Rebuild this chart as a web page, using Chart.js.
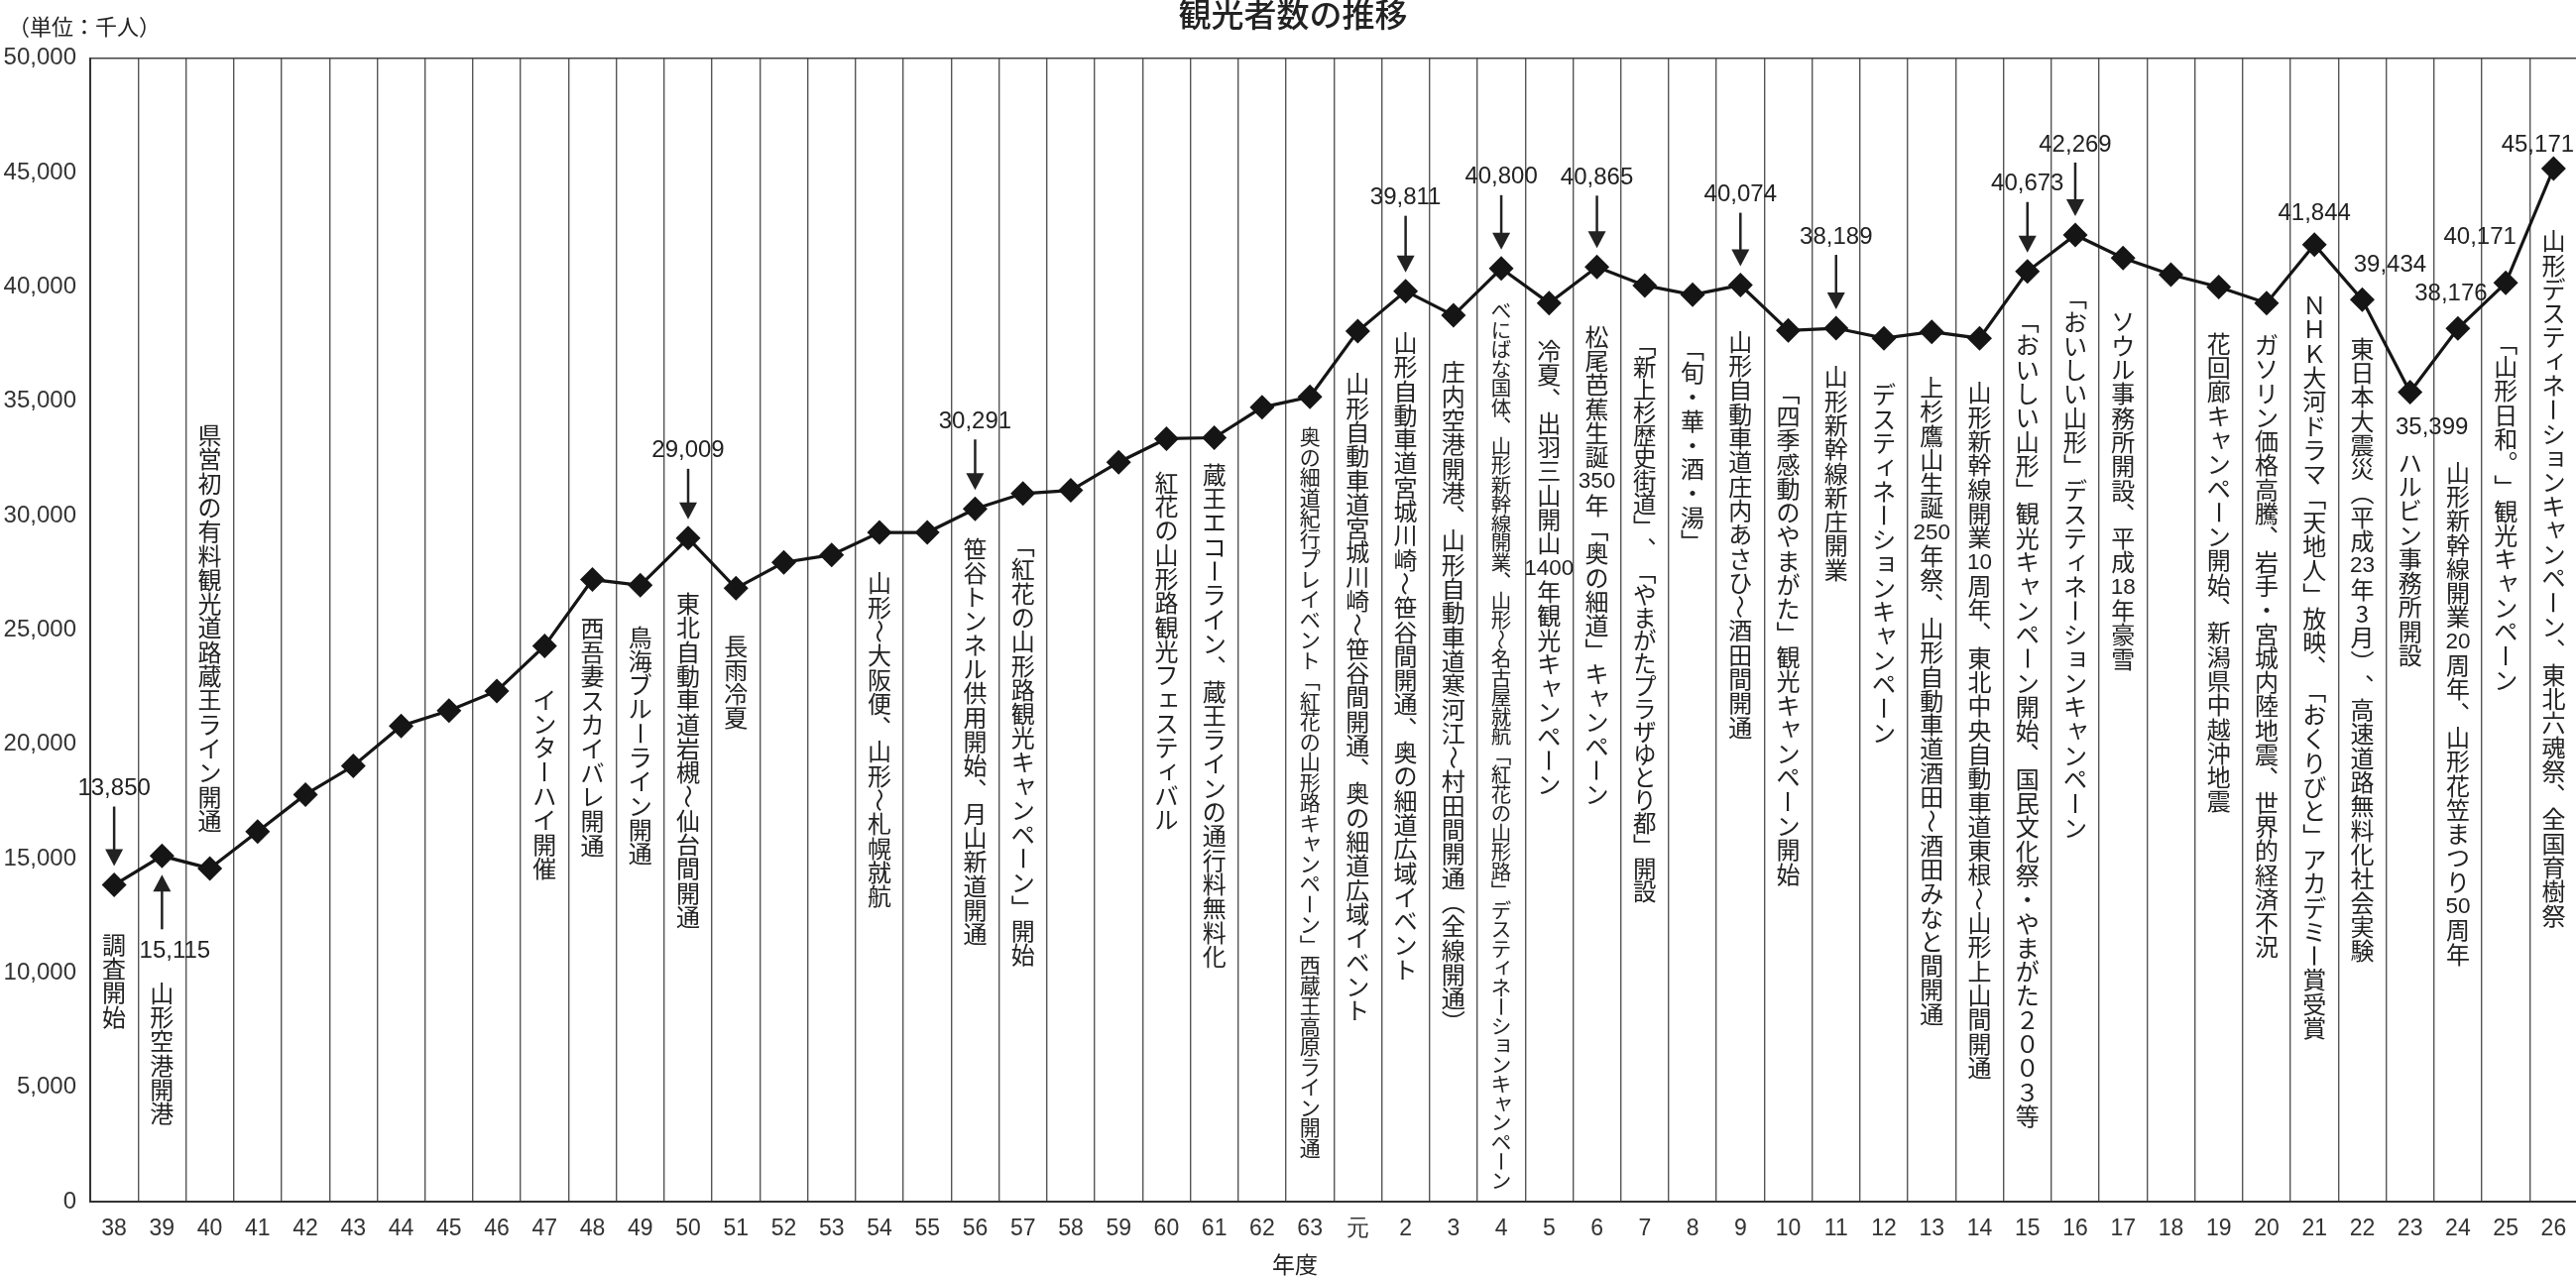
<!DOCTYPE html>
<html>
<head>
<meta charset="utf-8">
<script src="https://cdn.jsdelivr.net/npm/chart.js@4.4.1/dist/chart.umd.min.js"></script>
<style>
html,body{margin:0;padding:0;background:#fff;overflow:hidden;}
#wrap{position:relative;width:2612px;height:1287px;}
</style>
</head>
<body>
<div id="wrap"><canvas id="c"></canvas></div>
<script>
// ---------- DATA ----------
const years = ['38','39','40','41','42','43','44','45','46','47','48','49','50','51','52','53','54','55','56','57','58','59','60','61','62','63',
  '元','2','3','4','5','6','7','8','9','10','11','12','13','14','15','16','17','18','19','20','21','22','23','24','25','26'];
const visitors = [13850,15115,14570,16180,17800,19050,20800,21470,22330,24300,27200,26950,29009,26820,27950,28280,29260,29260,30291,30960,31100,32330,33360,33400,34730,35190,
  38060,39811,38750,40800,39290,40865,40060,39650,40074,38090,38189,37750,38030,37750,40673,42269,41260,40530,39990,39290,41844,39434,35399,38176,40171,45171];
const yTickMin = 0, yTickMax = 50000, yTickStep = 5000;
const chartTitle = '観光者数の推移';
const unitText = '（単位：千人）';
const xAxisTitle = '年度';

// events shown as vertical text ({..} = horizontal digits)
const noteYears = ['38','39','40','47','48','49','50','51','54','56','57','60','61','63','元','2','3','4','5','6','7','8','9','10','11','12','13','14','15','16','17','19','20','21','22','23','24','25','26'];
const noteTexts = [
  '調査開始',
  '山形空港開港',
  '県営初の有料観光道路蔵王ライン開通',
  'インターハイ開催',
  '西吾妻スカイバレ開通',
  '鳥海ブルーライン開通',
  '東北自動車道岩槻～仙台間開通',
  '長雨冷夏',
  '山形～大阪便、山形～札幌就航',
  '笹谷トンネル供用開始、月山新道開通',
  '「紅花の山形路観光キャンペーン」開始',
  '紅花の山形路観光フェスティバル',
  '蔵王エコーライン、蔵王ラインの通行料無料化',
  '奥の細道紀行プレイベント「紅花の山形路キャンペーン」西蔵王高原ライン開通',
  '山形自動車道宮城川崎～笹谷間開通、奥の細道広域イベント',
  '山形自動車道宮城川崎～笹谷間開通、奥の細道広域イベント',
  '庄内空港開港、山形自動車道寒河江～村田間開通（全線開通）',
  'べにばな国体、山形新幹線開業、山形～名古屋就航「紅花の山形路」デスティネーションキャンペーン',
  '冷夏、出羽三山開山{1400}年観光キャンペーン',
  '松尾芭蕉生誕{350}年「奥の細道」キャンペーン',
  '「新上杉歴史街道」、「やまがたプラザゆとり都」開設',
  '「旬・華・酒・湯」',
  '山形自動車道庄内あさひ～酒田間開通',
  '「四季感動のやまがた」観光キャンペーン開始',
  '山形新幹線新庄開業',
  'デスティネーションキャンペーン',
  '上杉鷹山生誕{250}年祭、山形自動車道酒田～酒田みなと間開通',
  '山形新幹線開業{10}周年、東北中央自動車道東根～山形上山間開通',
  '「おいしい山形」観光キャンペーン開始、国民文化祭・やまがた２００３等',
  '「おいしい山形」デスティネーションキャンペーン',
  'ソウル事務所開設、平成{18}年豪雪',
  '花回廊キャンペーン開始、新潟県中越沖地震',
  'ガソリン価格高騰、岩手・宮城内陸地震、世界的経済不況',
  'ＮＨＫ大河ドラマ「天地人」放映、「おくりびと」アカデミー賞受賞',
  '東日本大震災（平成{23}年3月）、高速道路無料化社会実験',
  'ハルビン事務所開設',
  '山形新幹線開業{20}周年、山形花笠まつり{50}周年',
  '「山形日和。」観光キャンペーン',
  '山形デスティネーションキャンペーン、東北六魂祭、全国育樹祭'
];
// years whose value is printed
const labeledYears = ['38','39','50','56','2','4','6','9','11','15','16','21','22','23','24','25','26'];

// ---------- LAYOUT (pixels, not data) ----------
// gap from point centre to top of note (negative = note ends above the point)
const noteGap = {'38':48,'39':126,'40':-36,'47':42,'48':37,'49':40,'50':54,'51':46,'54':39,'56':28,'57':40,'60':32,'61':25,'63':30,
  '元':41,'2':40,'3':45,'4':33,'5':36,'6':58,'7':48,'8':42,'9':45,'10':50,'11':37,'12':45,'13':44,'14':43,'15':38,'16':51,'17':52,
  '19':45,'20':30,'21':49,'22':37,'23':59,'24':133,'25':48,'26':61};
const noteFit = {'63':{pitch:20.5,size:21},'4':{pitch:19.5,size:20.5},'7':{pitch:23,size:23.5}};
const labelLayout = {
  '38':{k:'down',dy:-97,dx:0}, '39':{k:'up',dy:96,dx:13}, '50':{k:'down',dy:-88,dx:0}, '56':{k:'down',dy:-88,dx:0},
  '2':{k:'down',dy:-94,dx:0}, '4':{k:'down',dy:-92,dx:0}, '6':{k:'down',dy:-90,dx:0}, '9':{k:'down',dy:-91,dx:0},
  '11':{k:'down',dy:-92,dx:0}, '15':{k:'down',dy:-88,dx:0}, '16':{k:'down',dy:-91,dx:0},
  '21':{k:'text',dy:-31,dx:0}, '22':{k:'text',dy:-35,dx:28}, '23':{k:'text',dy:36,dx:22},
  '24':{k:'text',dy:-35,dx:-7}, '25':{k:'text',dy:-46,dx:-26}, '26':{k:'text',dy:-24,dx:-16}
};
const INK = '#222';
const CJK = '"Noto Sans CJK JP", "Noto Sans CJK SC", sans-serif';
const LAT = '"Liberation Sans", Arial, sans-serif';

const VSUB = {'「':'﹁','」':'﹂','（':'︵','）':'︶','『':'﹃','』':'﹄','、':'︑','。':'︒'};
const VROT = 'ー～〜－―';
const SMALL = 'ャュョィェァォッゃゅょっぃぁぇぉ';

function tokens(s){
  const out=[];
  for(let i=0;i<s.length;i++){
    const c=s[i];
    if(c==='{'){ const j=s.indexOf('}',i); out.push({h:s.slice(i+1,j)}); i=j; }
    else out.push({c});
  }
  return out;
}
function drawVertical(ctx, s, x, top, pitch, size){
  const toks = tokens(s);
  toks.forEach((t,k)=>{
    const cy = top + (k+0.5)*pitch;
    if(t.h){ ctx.font = (size-1.5)+'px '+LAT; ctx.fillText(t.h, x, cy+1); return; }
    ctx.font = size+'px '+CJK;
    const c=t.c;
    if(VROT.includes(c)){ ctx.save(); ctx.translate(x,cy); ctx.rotate(Math.PI/2); ctx.fillText(c,0,0); ctx.restore(); }
    else if(VSUB[c]) ctx.fillText(VSUB[c], x, cy);
    else if(SMALL.includes(c)) ctx.fillText(c, x+size*0.1, cy-size*0.1);
    else ctx.fillText(c, x, cy);
  });
  return toks.length;
}
function arrow(ctx, x, y0, tip){
  const dir = Math.sign(tip-y0);
  ctx.lineWidth = 2.5;
  ctx.beginPath(); ctx.moveTo(x,y0); ctx.lineTo(x,tip-dir*12); ctx.stroke();
  ctx.beginPath(); ctx.moveTo(x-9,tip-dir*17); ctx.lineTo(x+9,tip-dir*17); ctx.lineTo(x,tip); ctx.closePath(); ctx.fill();
}

const annotations = {
  id:'annotations',
  afterDraw(chart){
    const ctx = chart.ctx, meta = chart.getDatasetMeta(0);
    ctx.save();
    ctx.fillStyle = INK; ctx.strokeStyle = INK;
    ctx.textBaseline = 'middle';
    // unit & axis title
    ctx.textAlign = 'left'; ctx.font = '22px '+CJK; ctx.fillText(unitText, 8, 27);
    ctx.textAlign = 'center'; ctx.font = '23px '+CJK; ctx.fillText(xAxisTitle, chart.width/2, 1275);
    // notes
    noteYears.forEach((yr,n)=>{
      const p = meta.data[years.indexOf(yr)];
      const fit = noteFit[yr] || {pitch:24.3,size:24};
      const gap = noteGap[yr];
      const len = tokens(noteTexts[n]).length;
      const top = gap >= 0 ? p.y + gap : p.y + gap - len*fit.pitch;
      drawVertical(ctx, noteTexts[n], p.x, top, fit.pitch, fit.size);
    });
    // value labels
    ctx.font = '24px '+LAT;
    labeledYears.forEach(yr=>{
      const i = years.indexOf(yr), p = meta.data[i], L = labelLayout[yr];
      const ly = p.y + L.dy;
      ctx.fillText(visitors[i].toLocaleString('en-US'), p.x + L.dx, ly);
      if(L.k==='down') arrow(ctx, p.x, ly+18, p.y-19);
      if(L.k==='up') arrow(ctx, p.x, ly-22, p.y+19);
    });
    ctx.restore();
  }
};

function build(){
  new Chart(document.getElementById('c'), {
    type:'line',
    data:{ labels: years, datasets:[{
      data: visitors, borderColor:'#151515', borderWidth:3.2, tension:0,
      pointStyle:'rectRot', pointRadius:12.5, pointHoverRadius:12.5,
      pointBackgroundColor:'#151515', pointBorderColor:'#151515', pointBorderWidth:0
    }]},
    options:{
      responsive:true, maintainAspectRatio:false, animation:false, devicePixelRatio:1,
      layout:{padding:{left:0,right:4,top:0,bottom:0}},
      plugins:{
        legend:{display:false}, tooltip:{enabled:false},
        title:{display:true, text:chartTitle, color:INK, font:{size:33, family:CJK, weight:'500'}, padding:{top:-5,bottom:24}}
      },
      scales:{
        x:{ offset:true,
          grid:{offset:true, color:'#555', lineWidth:1.4, drawTicks:false},
          border:{display:true, color:'#333', width:2},
          ticks:{padding:14, color:'#333', font:{size:23, family:LAT}, maxRotation:0, autoSkip:false},
          afterFit(s){ s.height = 75; }
        },
        y:{ min:yTickMin, max:yTickMax,
          ticks:{stepSize:yTickStep, padding:14, color:'#333', font:{size:24, family:LAT}},
          grid:{drawTicks:false, lineWidth:1.5, color:c=> (c.tick && c.tick.value===yTickMax) ? '#444' : 'rgba(0,0,0,0)'},
          border:{display:true, color:'#333', width:2},
          afterFit(s){ s.width = 91; }
        }
      }
    },
    plugins:[annotations]
  });
}
const fontLoads = [document.fonts.load('24px "Noto Sans CJK JP"','観光'), document.fonts.load('24px "Liberation Sans"','0123')];
Promise.race([Promise.all(fontLoads), new Promise(r=>setTimeout(r,800))]).then(build, build);
</script>
</body>
</html>
